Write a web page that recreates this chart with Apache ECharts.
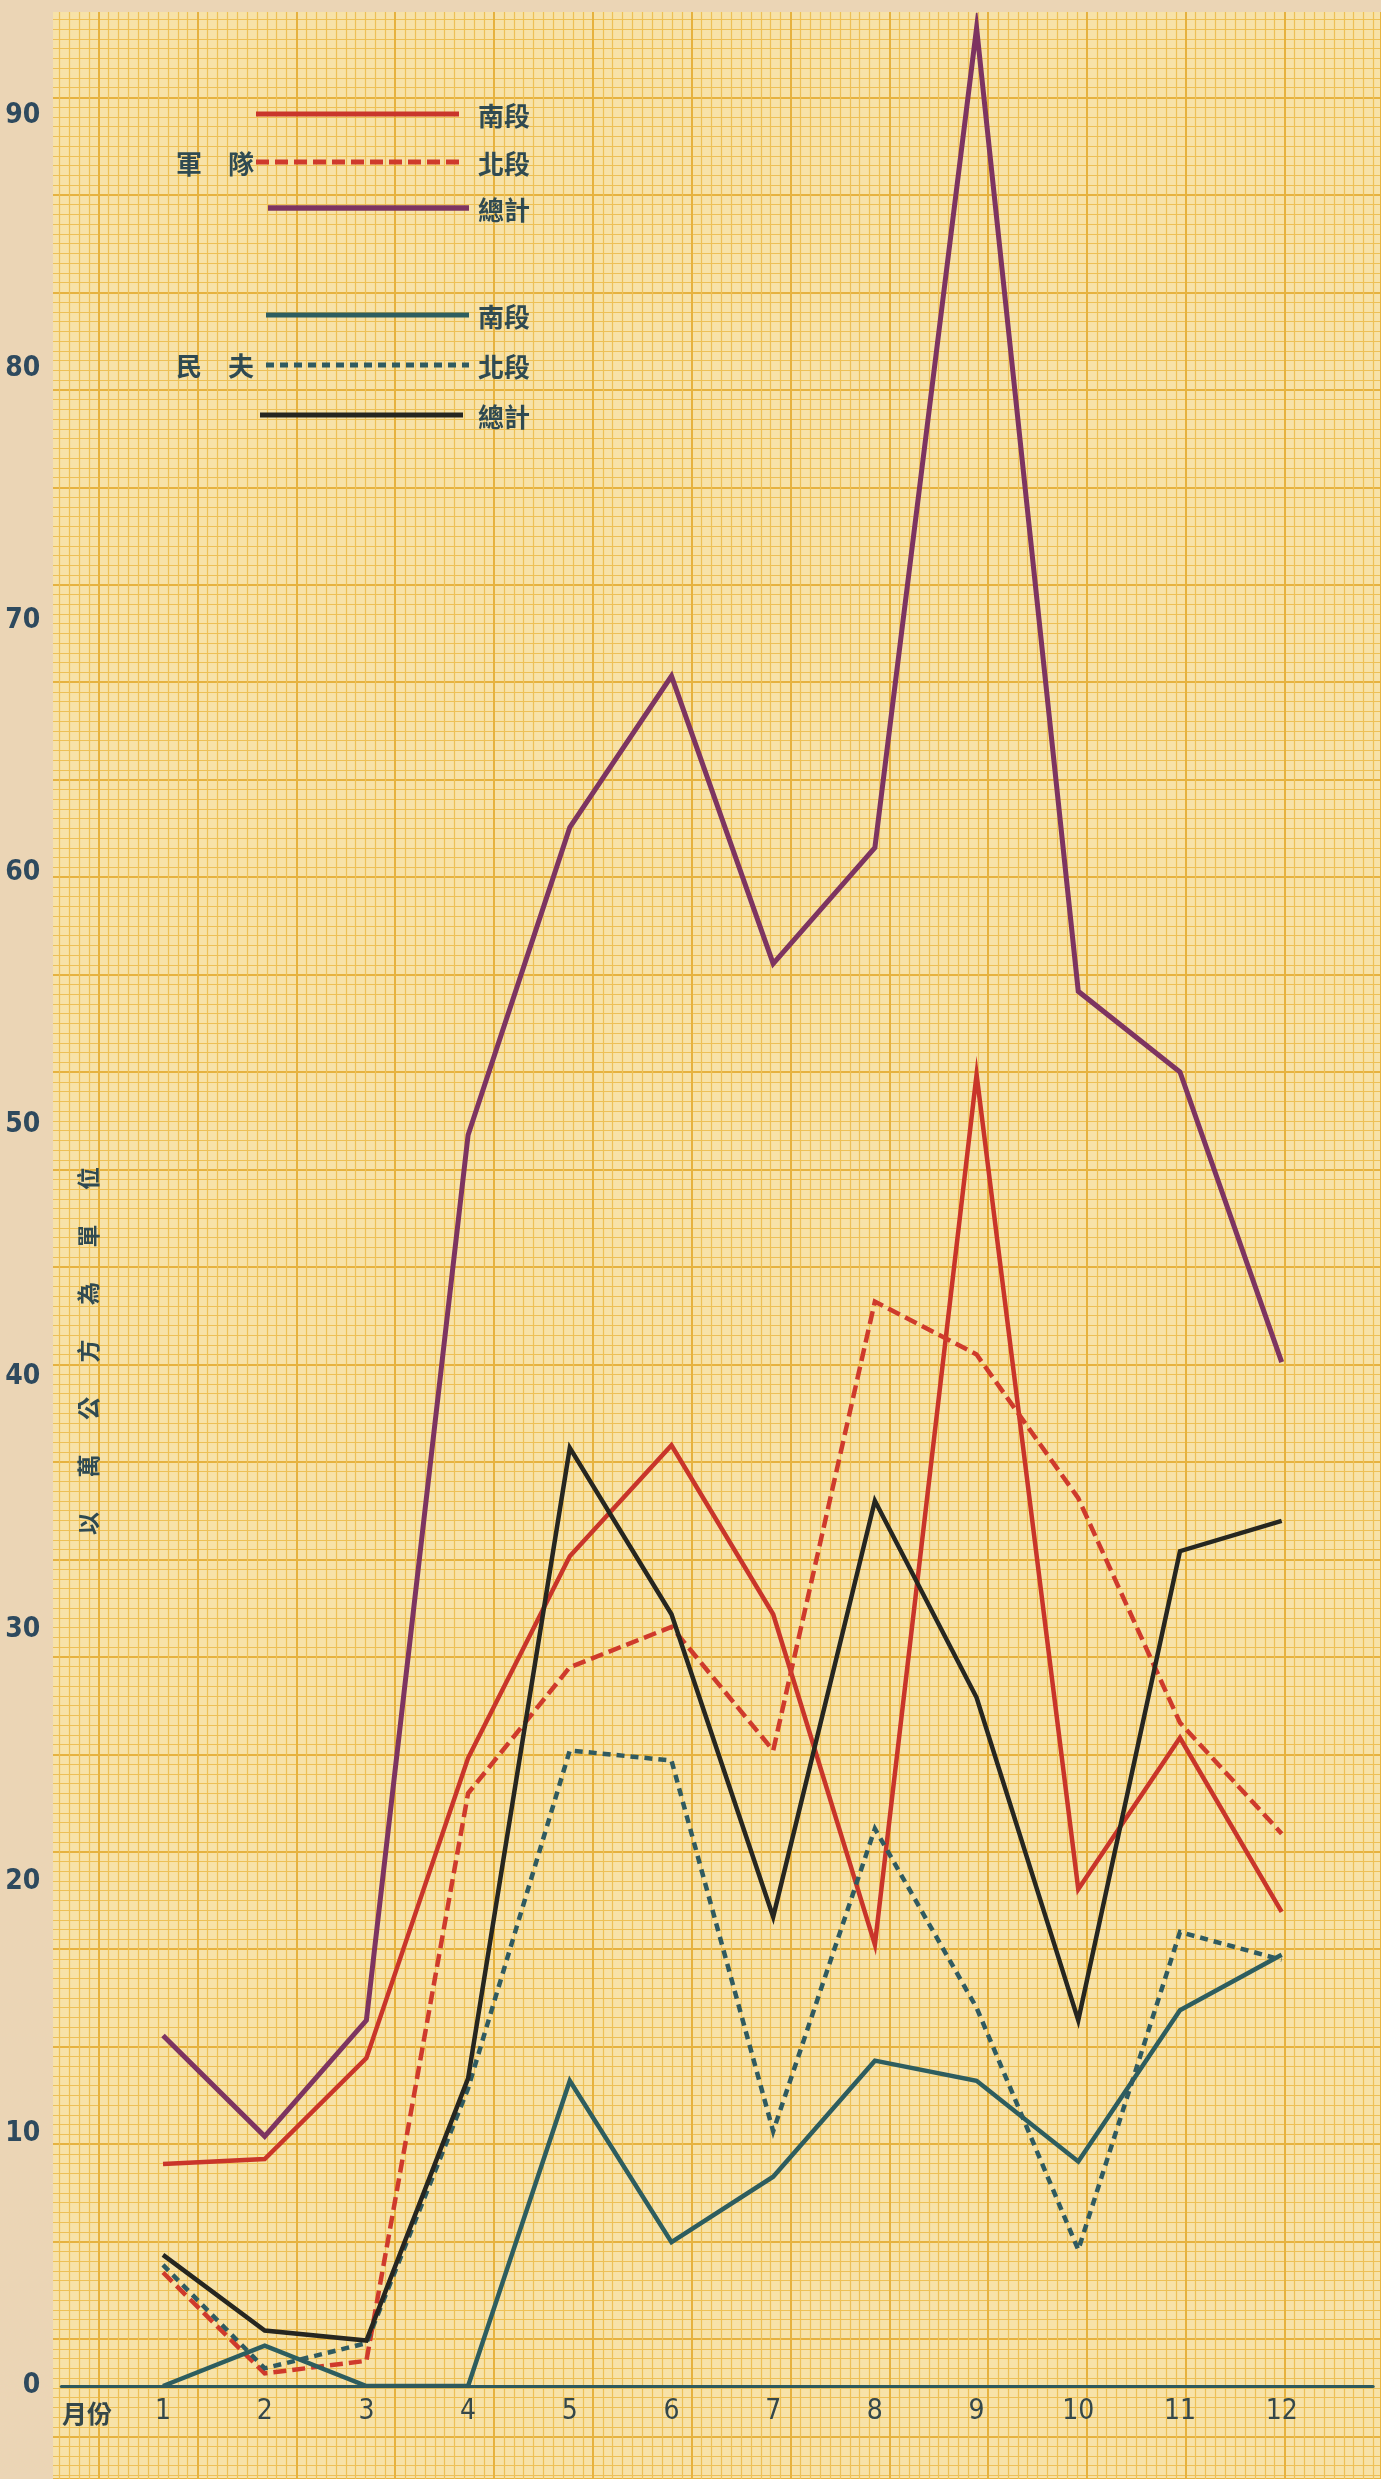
<!DOCTYPE html>
<html lang="zh-Hant">
<head>
<meta charset="utf-8">
<title>軍隊 民夫 各月工作量</title>
<script src="https://cdn.jsdelivr.net/npm/echarts@6/dist/echarts.min.js"></script>
<style>
  html, body { margin: 0; padding: 0; background: #ebd5b5; }
  #chart { width: 1381px; height: 2479px; }
</style>
</head>
<body>
<div id="chart"></div>
<script>
// 月份 / 數值（以萬公方為單位）
const MONTHS = [1, 2, 3, 4, 5, 6, 7, 8, 9, 10, 11, 12];
const Y_TICKS = [0, 10, 20, 30, 40, 50, 60, 70, 80, 90];

const ARMY_SOUTH = [8.8, 9.0, 13.0, 24.9, 32.9, 37.3, 30.6, 17.5, 52.0, 19.7, 25.7, 18.8];
const ARMY_NORTH = [4.5, 0.5, 1.0, 23.5, 28.5, 30.1, 25.2, 43.0, 40.9, 35.2, 26.3, 21.9];
const ARMY_TOTAL = [13.9, 9.9, 14.5, 49.6, 61.8, 67.8, 56.4, 61.0, 93.5, 55.3, 52.1, 40.6];
const LABOR_SOUTH = [0, 1.6, 0, 0, 12.1, 5.7, 8.3, 12.9, 12.1, 8.9, 14.9, 17.1];
const LABOR_NORTH = [4.8, 0.7, 1.7, 11.8, 25.2, 24.8, 10.1, 22.1, 15.0, 5.4, 18.0, 16.9];
const LABOR_TOTAL = [5.2, 2.2, 1.8, 12.2, 37.2, 30.6, 18.6, 35.1, 27.3, 14.5, 33.1, 34.3];

const CJK = '"Noto Sans CJK TC", "Noto Sans CJK SC", sans-serif';
const NUM = '"Liberation Sans Narrow", "DejaVu Sans Condensed", "DejaVu Sans", sans-serif';
const INK = "#2f4a52";

// 方格紙顏色
const PAPER = { bg: "#f7e2a8", minor: "#edc057", major: "#e6b23f", margin: "#ebd5b5" };

// 線條樣式（系列與圖例共用）
const STYLE = {
  "軍隊南段": { color: "#c9352a", width: 4.5 },
  "軍隊北段": { color: "#cf3a2c", width: 4.5, dash: [13, 6] },
  "軍隊總計": { color: "#7d3461", width: 5 },
  "民夫南段": { color: "#2d5d5f", width: 4.5 },
  "民夫北段": { color: "#2f5a60", width: 4.5, dash: [8, 6] },
  "民夫總計": { color: "#262620", width: 4.5 },
};

const pairs = (vals) => MONTHS.map((m, i) => [m, vals[i]]);

function line(name, vals) {
  const s = STYLE[name];
  return {
    name,
    type: "line",
    xAxisIndex: 0,
    yAxisIndex: 0,
    data: pairs(vals),
    symbol: "none",
    silent: true,
    z: 3,
    lineStyle: { color: s.color, width: s.width, type: s.dash || "solid", cap: "butt", join: "miter" },
  };
}

// 方格紙：第二個 grid 跨整張畫布，主線每格約 101px，細線十等分
const paperAxis = (extra) => Object.assign({
  type: "value",
  gridIndex: 1,
  min: 0,
  interval: 1,
  silent: true,
  axisLine: { show: false },
  axisTick: { show: false },
  axisLabel: { show: false },
  splitLine: { show: true, lineStyle: { color: PAPER.major, width: 2 } },
  minorTick: { show: false, splitNumber: 10 },
  minorSplitLine: { show: true, lineStyle: { color: PAPER.minor, width: 1.2 } },
}, extra);

// 圖例：線樣 + 右側文字
function legendItem(name, x1, x2, y) {
  const s = STYLE[name];
  return [
    {
      type: "line", z: 10, silent: true,
      shape: { x1, y1: y, x2, y2: y },
      style: { stroke: s.color, lineWidth: s.width + 0.5, lineDash: s.dash || null },
    },
    {
      type: "text", x: 478, y: y + 2, z: 10,
      style: { text: name.slice(2), fill: INK, font: `bold 26px ${CJK}`, verticalAlign: "middle" },
    },
  ];
}

const option = {
  backgroundColor: PAPER.bg,
  animation: false,
  grid: [
    { left: 61.3, right: 7.8, top: 15.3, bottom: 93 },
    { left: -40.4, right: 0, top: -90, bottom: 0 },
  ],
  xAxis: [
    {
      type: "value",
      gridIndex: 0,
      min: 0,
      max: 12.9,
      interval: 1,
      z: 10,
      axisLine: { show: true, lineStyle: { color: "#2f5a5c", width: 3 } },
      axisTick: { show: false },
      splitLine: { show: false },
      axisLabel: {
        color: "#34474a", fontFamily: NUM, fontSize: 28, margin: 12,
        formatter: (v) => (MONTHS.includes(v) ? String(v) : ""),
      },
    },
    paperAxis({ max: 13.976 }),
  ],
  yAxis: [
    {
      type: "value",
      gridIndex: 0,
      min: 0,
      max: 94,
      interval: 10,
      z: 10,
      axisLine: { show: false },
      axisTick: { show: false },
      splitLine: { show: false },
      axisLabel: {
        color: "#2e4a5e", fontFamily: NUM, fontSize: 28, fontWeight: "bold", margin: 21,
        formatter: (v) => (Y_TICKS.includes(v) ? String(v) : ""),
      },
    },
    paperAxis({ max: 25.436, inverse: true }),
  ],
  graphic: [
    // 紙邊（左側、上方）
    { type: "rect", x: 0, y: 0, z: 1, silent: true, shape: { width: 53, height: 2479 }, style: { fill: PAPER.margin } },
    { type: "rect", x: 0, y: 0, z: 1, silent: true, shape: { width: 1381, height: 12 }, style: { fill: PAPER.margin } },
    ...legendItem("軍隊南段", 256, 459, 114),
    ...legendItem("軍隊北段", 256, 459, 162),
    ...legendItem("軍隊總計", 268, 469, 208),
    ...legendItem("民夫南段", 266, 469, 315),
    ...legendItem("民夫北段", 266, 469, 365),
    ...legendItem("民夫總計", 260, 463, 415),
    { type: "text", x: 176, y: 164, z: 10, style: { text: "軍\u3000隊", fill: INK, font: `bold 26px ${CJK}`, verticalAlign: "middle" } },
    { type: "text", x: 176, y: 366, z: 10, style: { text: "民\u3000夫", fill: INK, font: `bold 26px ${CJK}`, verticalAlign: "middle" } },
    { type: "text", x: 62, y: 2413, z: 10, style: { text: "月份", fill: "#34474a", font: `bold 25px ${CJK}`, verticalAlign: "middle" } },
    {
      type: "text", x: 88, y: 1351, z: 10, rotation: Math.PI / 2,
      style: {
        text: "以\u3000\u2002萬\u3000\u2002公\u3000\u2002方\u3000\u2002為\u3000\u2002單\u3000\u2002位",
        fill: INK, font: `bold 23px ${CJK}`, align: "center", verticalAlign: "middle",
      },
    },
  ],
  series: [
    line("軍隊南段", ARMY_SOUTH),
    line("軍隊北段", ARMY_NORTH),
    line("軍隊總計", ARMY_TOTAL),
    line("民夫南段", LABOR_SOUTH),
    line("民夫北段", LABOR_NORTH),
    line("民夫總計", LABOR_TOTAL),
  ],
};

const chart = echarts.init(document.getElementById("chart"), null, { renderer: "canvas" });
chart.setOption(option);
</script>
</body>
</html>
